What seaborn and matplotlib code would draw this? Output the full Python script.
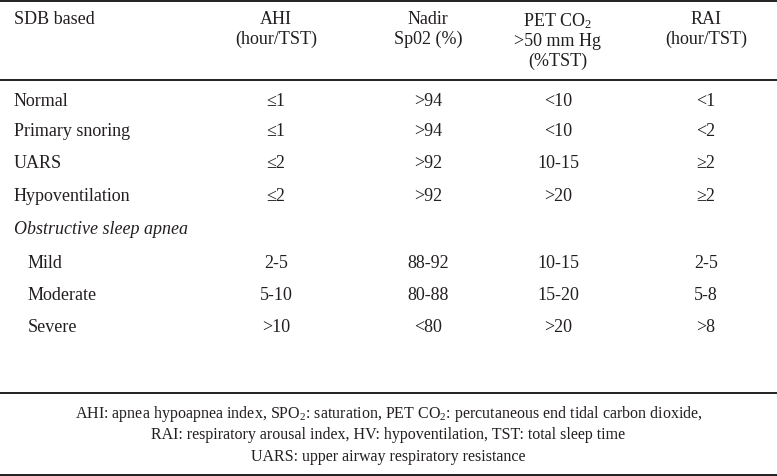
import matplotlib
matplotlib.use("Agg")
import matplotlib.pyplot as plt
import seaborn as sns

# ---- data ----
header_first = "SDB based"
col_headers = ["AHI\n(hour/TST)", "Nadir\nSp02 (%)", "PET CO$_2$\n>50 mm Hg\n(%TST)", "RAI\n(hour/TST)"]
row_labels = ["Normal", "Primary snoring", "UARS", "Hypoventilation",
              "Obstructive sleep apnea", "Mild", "Moderate", "Severe"]
ahi = ["≤1", "≤1", "≤2", "≤2", "", "2-5", "5-10", ">10"]
nadir_spo2 = [">94", ">94", ">92", ">92", "", "88-92", "80-88", "<80"]
pet_co2 = ["<10", "<10", "10-15", ">20", "", "10-15", "15-20", ">20"]
rai = ["<1", "<2", "≥2", "≥2", "", "2-5", "5-8", ">8"]
footnote = ["AHI: apnea hypoapnea index, SPO$_2$: saturation, PET CO$_2$: percutaneous end tidal carbon dioxide,",
            "RAI: respiratory arousal index, HV: hypoventilation, TST: total sleep time",
            "UARS: upper airway respiratory resistance"]

# ---- style ----
sns.set_theme(style="white")
plt.rcParams['font.family'] = ['Liberation Serif', 'DejaVu Serif']
plt.rcParams['mathtext.fontset'] = 'custom'
plt.rcParams['mathtext.rm'] = 'Liberation Serif'
plt.rcParams['mathtext.it'] = 'Liberation Serif:italic'
ink = '#231f20'
fs = 13
fs_note = 11.5

fig = plt.figure(figsize=(7.77, 4.77), dpi=100)
ax = fig.add_axes([0, 0, 1, 1])
ax.set_xlim(0, 777)
ax.set_ylim(477, 0)
ax.axis('off')

# layout
col_x = [276, 428, 558, 706]
label_x = 14
indent_x = 28
row_y = [101, 132, 164, 197, 230, 264, 296, 328]
header_y = 11
ls = 1.2

# rules
for y in [1.5, 80.5, 393.5, 475.5]:
    ax.plot([0, 777], [y, y], color=ink, lw=1.4, solid_capstyle='butt')

# header
ax.text(label_x, header_y, header_first, ha='left', va='top', fontsize=fs, color=ink,
        linespacing=ls)
for x, h in zip(col_x, col_headers):
    ax.text(x, header_y, h, ha='center', va='top', fontsize=fs, color=ink, linespacing=ls)

# body
cols = [ahi, nadir_spo2, pet_co2, rai]
subrows = {"Mild", "Moderate", "Severe"}
for i, lab in enumerate(row_labels):
    y = row_y[i]
    if lab == "Obstructive sleep apnea":
        ax.text(label_x, y, lab, ha='left', va='center', fontsize=fs, color=ink, style='italic')
    else:
        ax.text(indent_x if lab in subrows else label_x, y, lab, ha='left', va='center',
                fontsize=fs, color=ink)
    for x, col in zip(col_x, cols):
        if col[i]:
            ax.text(x, y, col[i], ha='center', va='center', fontsize=fs, color=ink)

# footnote
for k, line in enumerate(footnote):
    ax.text(388.5, 414 + k * 21.5, line, ha='center', va='center', fontsize=fs_note, color=ink)

fig.savefig("out.png", dpi=100)
